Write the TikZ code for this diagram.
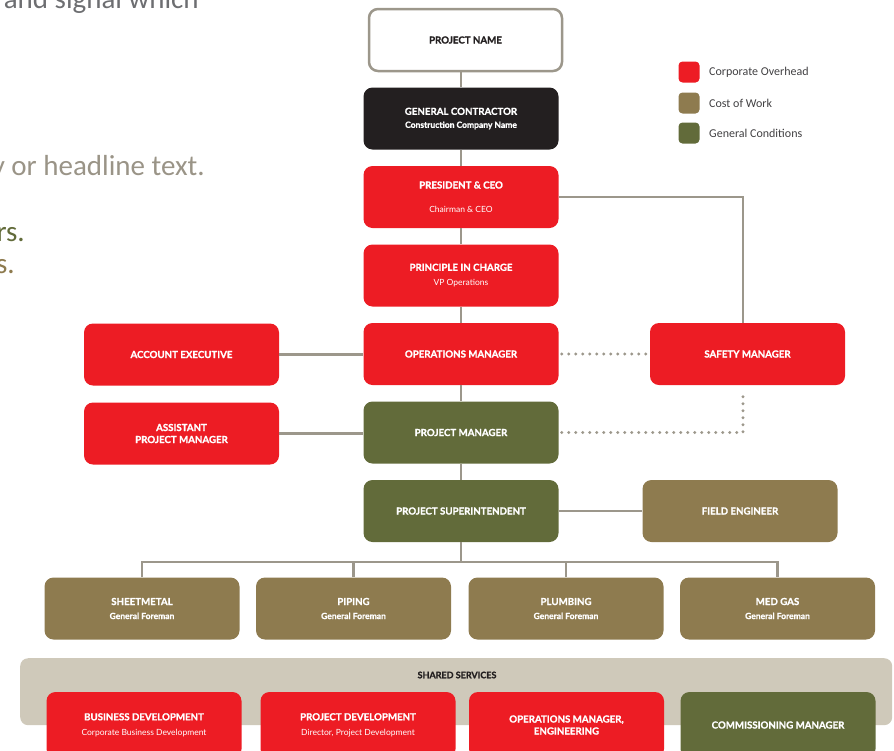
\documentclass[tikz,border=0pt]{standalone}
\usepackage{fontspec}
\setmainfont{Lato}[BoldFeatures={FakeBold=1.2}]
\newfontfamily\carlito{Carlito}
\definecolor{cred}{HTML}{ED1C24}
\definecolor{cbrown}{HTML}{8E7B4F}
\definecolor{cgreen}{HTML}{626B3A}
\definecolor{cblack}{HTML}{231F20}
\definecolor{cline}{HTML}{9C978B}
\definecolor{cband}{HTML}{CFC9BA}
\definecolor{ctextgray}{HTML}{6D6E71}
\definecolor{cbeige}{HTML}{9A9487}
\definecolor{clegtext}{HTML}{414042}
\newcommand\boxsub[1]{{\normalfont\fontsize{8.5}{10}\selectfont #1}}
\newcommand\boxsubb[1]{{\bfseries\fontsize{8.5}{10}\selectfont #1}}
\begin{document}
\begin{tikzpicture}[x=1pt,y=-1pt,
  box/.style={rounded corners=9pt, minimum width=195pt, minimum height=62pt,
    inner sep=0pt, align=center, text=white,
    font=\bfseries\fontsize{9.7}{11}\selectfont},
  conn/.style={draw=cline, line width=2.5pt},
  dots/.style={draw=cline, line width=3.2pt, line cap=round, dash pattern=on 0pt off 7pt},
  legsq/.style={rounded corners=4pt, minimum width=21pt, minimum height=21pt, inner sep=0pt},
  legtxt/.style={anchor=west, inner sep=0pt, text=clegtext, font=\carlito\fontsize{12}{14}\selectfont},
  bigtxt/.style={anchor=base east, inner sep=0pt, font=\carlito\fontsize{29}{34}\selectfont}
]
\useasboundingbox (0,0) rectangle (894,750);

% background text fragments
\node[bigtxt, text=ctextgray] (t1) at (199,8) {and signal which};
\node[bigtxt, text=cbeige] (t2) at (205,175) {y or headline text.};
\node[bigtxt, text=cgreen] (t3) at (25,241) {rs.};
\node[bigtxt, text=cbrown] (t4) at (15,273) {s.};

% legend
\node[legsq, fill=cred] (lr) at (689,72) {};
\node[legsq, fill=cbrown] (lb) at (689,103) {};
\node[legsq, fill=cgreen] (lg) at (689,133) {};
\node[legtxt] (lrt) at (709,72) {Corporate Overhead};
\node[legtxt] (lbt) at (709,103) {Cost of Work};
\node[legtxt] (lgt) at (709,133) {General Conditions};

% shared services band
\node[fill=cband, rounded corners=8pt, minimum width=872pt, minimum height=67pt,
  inner sep=0pt, anchor=north west] (band) at (20,658) {};
\node[inner sep=0pt, text=cblack, font=\bfseries\fontsize{9}{10}\selectfont] (bandlbl) at (457,675) {SHARED SERVICES};

% main column
\node[box, fill=white, draw=cline, line width=2.5pt, text=cblack, minimum width=193pt] (pname) at (465.5,40) {PROJECT NAME};
\node[box, fill=cblack] (gc) at (461,118.5) {GENERAL CONTRACTOR\\[2pt]\boxsubb{Construction Company Name}};
\node[box, fill=cred] (pres) at (461,197) {PRESIDENT \& CEO\\[13pt]\boxsub{Chairman \& CEO}};
\node[box, fill=cred] (pic) at (461,275.5) {PRINCIPLE IN CHARGE\\[4pt]\boxsub{VP Operations}};
\node[box, fill=cred] (ops) at (461,354) {OPERATIONS MANAGER};
\node[box, fill=cgreen] (pm) at (461,432.5) {PROJECT MANAGER};
\node[box, fill=cgreen] (sup) at (461,511) {PROJECT SUPERINTENDENT};

% side boxes
\node[box, fill=cred] (ae) at (181.5,354.5) {ACCOUNT EXECUTIVE};
\node[box, fill=cred] (apm) at (181.5,433.5) {ASSISTANT\\[1pt]PROJECT MANAGER};
\node[box, fill=cred] (safety) at (747.5,354) {SAFETY MANAGER};
\node[box, fill=cbrown] (fe) at (740,511) {FIELD ENGINEER};

% foremen
\node[box, fill=cbrown] (sm) at (142,608.5) {SHEETMETAL\\[3pt]\boxsubb{General Foreman}};
\node[box, fill=cbrown] (pip) at (353.5,608.5) {PIPING\\[3pt]\boxsubb{General Foreman}};
\node[box, fill=cbrown] (plb) at (566,608.5) {PLUMBING\\[3pt]\boxsubb{General Foreman}};
\node[box, fill=cbrown] (mg) at (777.5,608.5) {MED GAS\\[3pt]\boxsubb{General Foreman}};

% shared services boxes
\node[box, fill=cred, minimum height=66pt] (bd) at (144,725) {BUSINESS DEVELOPMENT\\[4pt]\boxsub{Corporate Business Development}};
\node[box, fill=cred, minimum height=66pt] (pd) at (358,725) {PROJECT DEVELOPMENT\\[4pt]\boxsub{Director, Project Development}};
\node[box, fill=cred, minimum height=66pt] (ome) at (566.5,725) {OPERATIONS MANAGER,\\[1pt]ENGINEERING};
\node[box, fill=cgreen, minimum height=66pt] (cm) at (778,725) {COMMISSIONING MANAGER};

% connectors
\coordinate (sfx) at (743,0);
\coordinate (bus) at (0,562);
\draw[conn] (gc.north) -- (gc.north |- pname.south);
\draw[conn] (gc.south) -- (pres.north);
\draw[conn] (pres.south) -- (pic.north);
\draw[conn] (pic.south) -- (ops.north);
\draw[conn] (ops.south) -- (pm.north);
\draw[conn] (pm.south) -- (sup.north);
\draw[conn] (pres.east) -| (sfx |- safety.north);
\draw[conn] (ae.east) -- (ae.east -| ops.west);
\draw[conn] (apm.east) -- (apm.east -| pm.west);
\draw[conn] (sup.east) -- (fe.west);
\draw[dots] ([xshift=3pt]ops.east) -- (safety.west);
\draw[dots] ([xshift=3pt]pm.east) -| ([yshift=-5pt]sfx |- safety.south);
\draw[conn] (sup.south) -- (sup.south |- bus);
\draw[conn] (sm.north) -- (sm.north |- bus) -- (mg.north |- bus) -- (mg.north);
\draw[conn] (pip.north) -- (pip.north |- bus);
\draw[conn] (plb.north) -- (plb.north |- bus);
\end{tikzpicture}
\end{document}
